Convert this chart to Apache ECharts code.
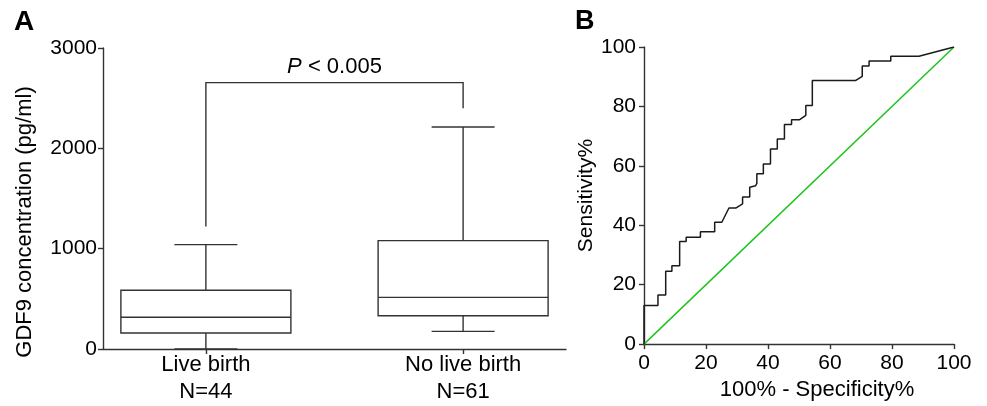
<!DOCTYPE html>
<html>
<head>
<meta charset="utf-8">
<script src="https://cdn.jsdelivr.net/npm/echarts@6/dist/echarts.min.js"></script>
<style>
  html, body { margin: 0; padding: 0; background: #fff; }
  #chart { width: 987px; height: 406px; }
</style>
</head>
<body>
<div id="chart"></div>
<script>
// panel A: box plot of GDF9 concentration
const slots = ['', '', 'Live birth\nN=44', '', '', '', '', 'No live birth\nN=61', '', '']
const groupSlot = [2, 7]
const boxMin = [0, 176]
const boxQ1 = [160, 332]
const boxMedian = [316, 515]
const boxQ3 = [585, 1080]
const boxMax = [1040, 2213]
// significance bracket: left foot, top, right foot (pg/ml)
const bracket = [1220, 2655, 2400]

// panel B: ROC curve
const rocFpr = [0, 0, 4.5, 4.5, 7, 7, 9, 9, 11.5, 11.5, 13.6, 13.6, 18.2, 18.2, 22.8, 22.8, 25.1, 27.4, 29.6, 31.8, 31.8, 34.1, 34.1, 36, 36.4, 36.4, 38.5, 38.5, 40.8, 40.8, 43, 43, 45.3, 45.3, 47.6, 47.6, 50.1, 52.2, 52.2, 54.3, 54.3, 68.2, 70.4, 70.4, 72.6, 72.6, 79.6, 79.6, 88.7, 100]
const rocTpr = [0, 13, 13, 16.5, 16.5, 24.5, 24.5, 26.4, 26.4, 34.5, 34.5, 36, 36, 37.8, 37.8, 41, 41, 45.8, 45.8, 47.2, 49.5, 49.5, 52.8, 53.3, 54.1, 57.3, 57.3, 60.6, 60.6, 65.7, 65.7, 69, 69, 73.9, 73.9, 75.5, 75.5, 77, 80.3, 80.3, 88.7, 88.7, 90.1, 93.6, 93.6, 95.3, 95.3, 96.9, 96.9, 100]
const refX = [0, 100]
const refY = [0, 100]

const font = 'Liberation Sans, Arial, sans-serif'
const ink = '#333'

const boxData = groupSlot.map((s, i) => [s, boxMin[i], boxQ1[i], boxMedian[i], boxQ3[i], boxMax[i]])
const rocData = rocFpr.map((x, i) => [x, rocTpr[i]])
const refData = refX.map((x, i) => [x, refY[i]])

const showSlot = (idx) => groupSlot.indexOf(idx) >= 0

function renderBox(params, api) {
  const x = api.value(0)
  const pMin = api.coord([x, api.value(1)])
  const pQ1 = api.coord([x, api.value(2)])
  const pMed = api.coord([x, api.value(3)])
  const pQ3 = api.coord([x, api.value(4)])
  const pMax = api.coord([x, api.value(5)])
  const cx = pMed[0]
  const hw = 85
  const cw = 31.5
  const st = { stroke: ink, lineWidth: 1.4, fill: null }
  return {
    type: 'group',
    children: [
      { type: 'line', shape: { x1: cx, y1: pQ3[1], x2: cx, y2: pMax[1] }, style: st },
      { type: 'line', shape: { x1: cx - cw, y1: pMax[1], x2: cx + cw, y2: pMax[1] }, style: st },
      { type: 'line', shape: { x1: cx, y1: pQ1[1], x2: cx, y2: pMin[1] }, style: st },
      { type: 'line', shape: { x1: cx - cw, y1: pMin[1], x2: cx + cw, y2: pMin[1] }, style: st },
      { type: 'rect', shape: { x: cx - hw, y: pQ3[1], width: hw * 2, height: pQ1[1] - pQ3[1] },
        style: { stroke: ink, lineWidth: 1.4, fill: '#fff' } },
      { type: 'line', shape: { x1: cx - hw, y1: pMed[1], x2: cx + hw, y2: pMed[1] }, style: st }
    ]
  }
}

function renderBracket(params, api) {
  const a = api.coord([groupSlot[0], api.value(0)])
  const t1 = api.coord([groupSlot[0], api.value(1)])
  const t2 = api.coord([groupSlot[1], api.value(1)])
  const b = api.coord([groupSlot[1], api.value(2)])
  return {
    type: 'group',
    children: [
      { type: 'polyline', shape: { points: [a, t1, t2, b] },
        style: { stroke: ink, lineWidth: 1.4, fill: null } },
      { type: 'text', x: (t1[0] + t2[0]) / 2, y: t1[1] - 16,
        style: {
          text: '{i|P} < 0.005', align: 'center', verticalAlign: 'middle',
          font: '22px ' + font, fill: '#000',
          rich: { i: { fontStyle: 'italic', fontSize: 22, fontFamily: font } }
        } }
    ]
  }
}

const axisLine = { show: true, lineStyle: { color: ink, width: 1.4 } }
const axisTick = { show: true, length: 5, lineStyle: { color: ink, width: 1.4 } }

const option = {
  animation: false,
  backgroundColor: '#fff',
  textStyle: { fontFamily: font },
  graphic: [
    { type: 'text', left: 14, top: 8, style: { text: 'A', font: 'bold 28px ' + font, fill: '#000' } },
    { type: 'text', left: 575, top: 8, style: { text: 'B', font: 'bold 27px ' + font, fill: '#000' } }
  ],
  grid: [
    { left: 103, top: 48, width: 463, height: 301 },
    { left: 644, top: 47, width: 310, height: 303 }
  ],
  xAxis: [
    {
      gridIndex: 0, type: 'category', data: slots, boundaryGap: false,
      axisLine: axisLine,
      axisTick: Object.assign({}, axisTick, { interval: showSlot }),
      axisLabel: { interval: showSlot, fontSize: 22, lineHeight: 27, margin: 2, color: '#000', fontFamily: font },
      splitLine: { show: false }
    },
    {
      gridIndex: 1, type: 'value', min: 0, max: 100, interval: 20,
      name: '100% - Specificity%', nameLocation: 'middle', nameGap: 30,
      nameTextStyle: { fontSize: 22, color: '#000', fontFamily: font, lineHeight: 22, padding: [0, 0, 0, 36] },
      axisLine: axisLine, axisTick: axisTick,
      axisLabel: { fontSize: 21, margin: 9, color: '#000', fontFamily: font },
      splitLine: { show: false }
    }
  ],
  yAxis: [
    {
      gridIndex: 0, type: 'value', min: 0, max: 3000, interval: 1000,
      name: 'GDF9 concentration (pg/ml)', nameLocation: 'middle', nameGap: 67,
      nameTextStyle: { fontSize: 22, color: '#000', fontFamily: font, lineHeight: 22, padding: [0, 47, 0, 0] },
      axisLine: axisLine, axisTick: axisTick,
      axisLabel: { fontSize: 21, margin: 6, color: '#000', fontFamily: font, formatter: (v) => String(v) },
      splitLine: { show: false }
    },
    {
      gridIndex: 1, type: 'value', min: 0, max: 100, interval: 20,
      name: 'Sensitivity%', nameLocation: 'middle', nameGap: 37,
      nameTextStyle: { fontSize: 21, color: '#000', fontFamily: font, lineHeight: 21 },
      axisLine: axisLine, axisTick: axisTick,
      axisLabel: { fontSize: 21, margin: 8, color: '#000', fontFamily: font },
      splitLine: { show: false }
    }
  ],
  series: [
    {
      type: 'custom', xAxisIndex: 0, yAxisIndex: 0,
      encode: { x: 0, y: [1, 2, 3, 4, 5] },
      renderItem: renderBox, data: boxData, clip: false, z: 3
    },
    {
      type: 'custom', xAxisIndex: 0, yAxisIndex: 0,
      encode: { y: [0, 1, 2] },
      renderItem: renderBracket, data: [bracket], clip: false, z: 3
    },
    {
      type: 'line', xAxisIndex: 1, yAxisIndex: 1, data: refData,
      showSymbol: false, lineStyle: { color: '#1ec31e', width: 1.5 }, z: 3
    },
    {
      type: 'line', xAxisIndex: 1, yAxisIndex: 1, data: rocData,
      showSymbol: false, lineStyle: { color: '#1a1a1a', width: 1.5 }, z: 4
    }
  ]
}

const myChart = echarts.init(document.getElementById('chart'))
myChart.setOption(option)
</script>
</body>
</html>
